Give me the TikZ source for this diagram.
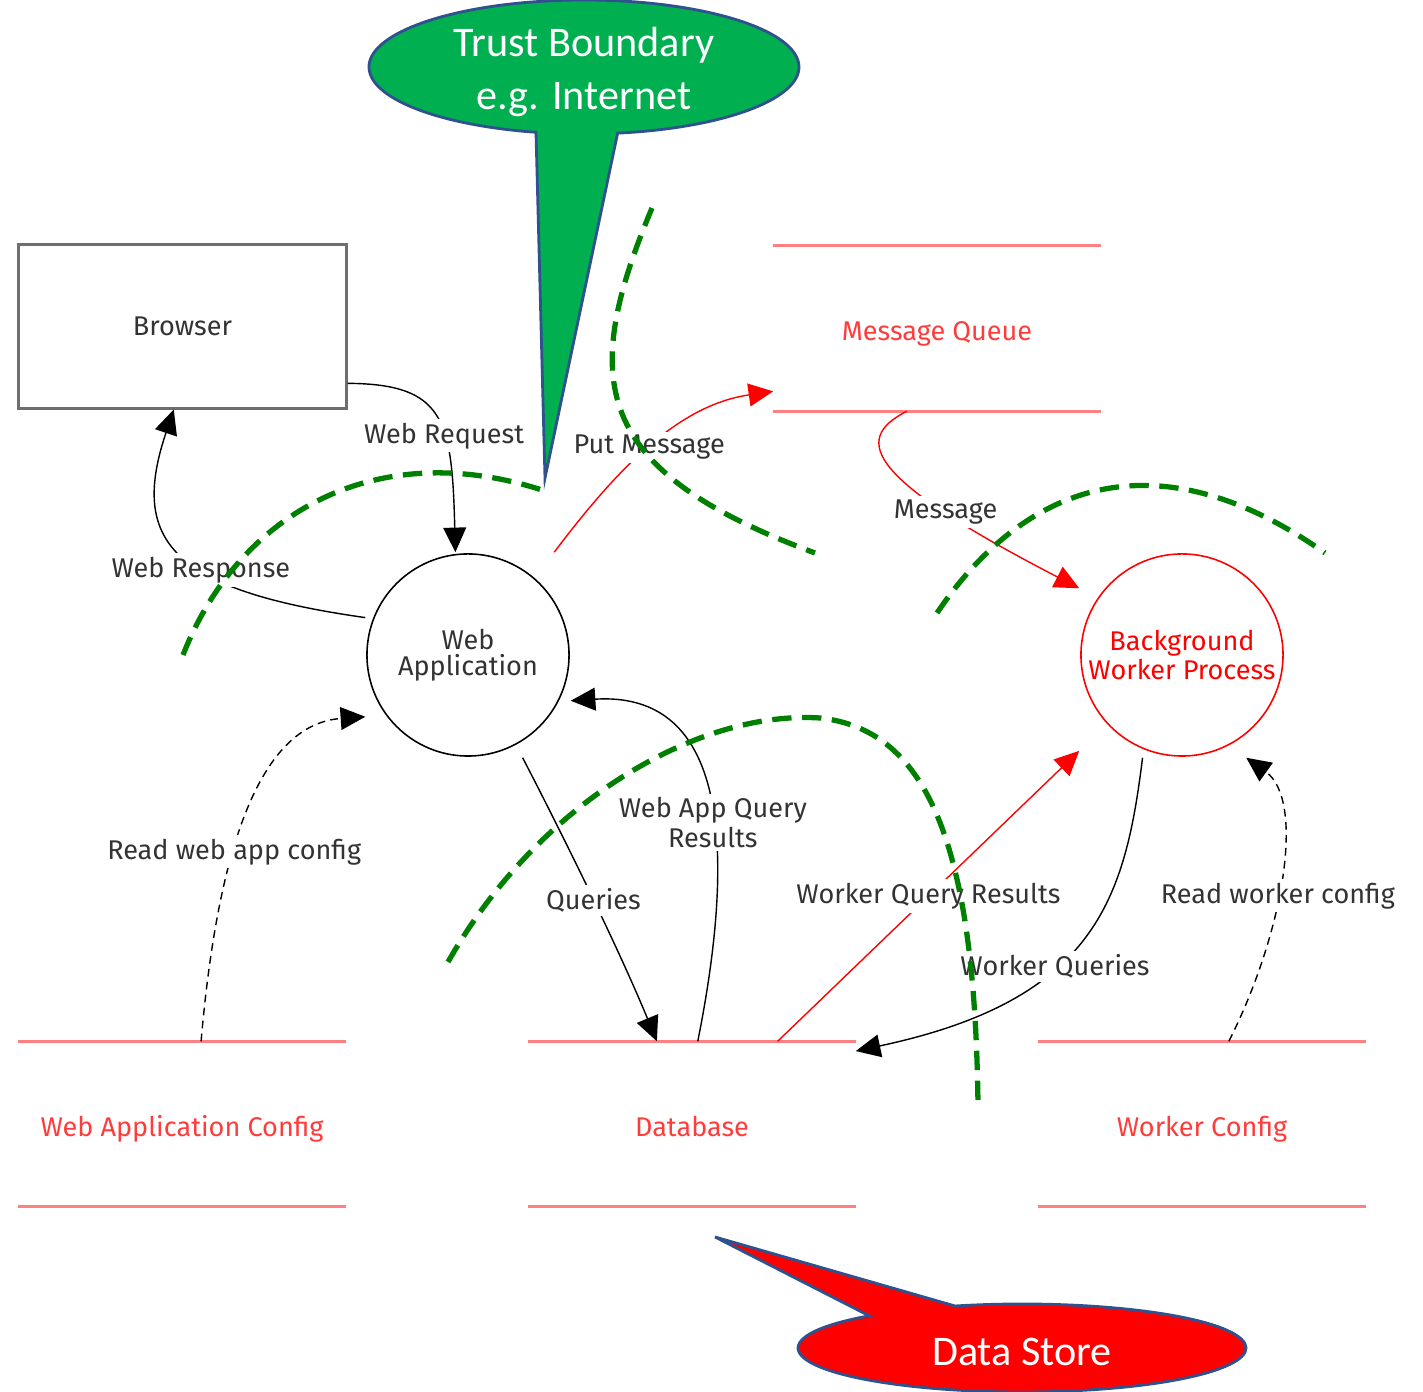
\documentclass[tikz,border=0pt]{standalone}
\usepackage{fontspec}
\setmainfont{Fira Sans}
\newfontfamily\calloutfont{Carlito}
\usetikzlibrary{arrows.meta,positioning}
\definecolor{labelgrey}{HTML}{333333}
\definecolor{boxgrey}{HTML}{6E6E6E}
\definecolor{storered}{HTML}{FF8080}
\definecolor{storetext}{HTML}{FF3C3C}
\definecolor{boundgreen}{HTML}{008000}
\definecolor{tbgreen}{HTML}{00B050}
\definecolor{callblue}{HTML}{2F528F}

\begin{document}
\begin{tikzpicture}[x=0.01cm, y=-0.01cm,
    every node/.style={font=\fontsize{7.7}{7.4}\selectfont, text=labelgrey},
    flow/.style={line width=.4pt, -{Triangle[length=7pt,width=6.5pt]}},
    redflow/.style={flow, red},
    cfgflow/.style={flow, dash pattern=on 2.2pt off 1.5pt},
    lbl/.style={fill=white, inner sep=1pt},
    proc/.style={rectangle, minimum size=2.04cm, align=center, inner sep=0pt,
        path picture={\draw[line width=.45pt,#1] (path picture bounding box.center) circle[radius=1.01cm];}},
    proc/.default=black,
    store/.style={minimum width=3.26cm, minimum height=1.64cm, text=storetext, text height=.7em, text depth=0pt},
    bound/.style={boundgreen, line width=1.5pt, dash pattern=on 5.5pt off 3pt},
    callout/.style={draw=callblue, line width=.8pt},
    callouttext/.style={font=\calloutfont\fontsize{12}{14.8}\selectfont, text=white, align=center}
  ]
  \useasboundingbox (0,0) rectangle (1423,1392);

  % actors and processes
  \node[draw=boxgrey, line width=.85pt, minimum width=3.27cm, minimum height=1.63cm] (browser) at (182.5,326.5) {Browser};
  \node[proc] (webapp) at (468,655) {Web\\Application};
  \node[proc=red, text=red] (bwp) at (1182,655) {Background\\Worker Process};

  % data stores
  \node[store] (mq) at (937,328.5) {Message Queue};
  \node[store] (wacfg) at (182,1124) {Web Application Config};
  \node[store] (db) at (692,1124) {Database};
  \node[store] (wcfg) at (1202,1124) {Worker Config};
  \foreach \s in {mq,wacfg,db,wcfg} {
    \draw[storered, line width=.85pt] (\s.north west) -- (\s.north east);
    \draw[storered, line width=.85pt] (\s.south west) -- (\s.south east);
  }

  % flows
  \draw[flow] (browser.-19) .. controls (445,384) and (452,420) .. (webapp.97)
    node[lbl,pos=.6] (lreq) {Web Request};
  \draw[flow] (webapp.160) .. controls (170,590) and (130,540) .. (browser.-96)
    node[lbl,pos=.4] (lresp) {Web Response};
  \draw[redflow] (webapp.50) .. controls (620,465) and (680,405) .. (mq.-159)
    node[lbl,pos=.48] (lput) {Put Message};
  \draw[redflow] (mq.-110) .. controls (850,440) and (870,480) .. (bwp.147)
    node[lbl,pos=.72] (lmsg) {Message};
  \draw[cfgflow] (wacfg.77) .. controls (215,880) and (250,725) .. (webapp.-149)
    node[lbl,pos=.42] (lwac) {Read web app config};
  \draw[flow] (webapp.-62) .. controls (555,820) and (615,940) .. (db.113)
    node[lbl,pos=.55] (lq) {Queries};
  \draw[flow] (db.86) .. controls (730,880) and (740,690) .. (webapp.-24)
    node[lbl,pos=.46,align=center] (lwaqr) {Web App Query\\Results};
  \draw[redflow] (db.44.7) -- (bwp.-137)
    node[lbl,pos=.5] (lwqr) {Worker Query Results};
  \draw[flow] (bwp.-111) .. controls (1125,900) and (1095,1000) .. (db.24)
    node[lbl,pos=.6] (lwq) {Worker Queries};
  \draw[cfgflow] (wcfg.72) .. controls (1285,930) and (1305,800) .. (bwp.-58)
    node[lbl,pos=.43] (lwc) {Read worker config};

  % trust boundaries
  \draw[bound] (183,655) .. controls (240,510) and (380,435) .. (548,492);
  \draw[bound] (652,208) .. controls (580,380) and (590,470) .. (815,553);
  \draw[bound] (937,613) .. controls (1020,490) and (1150,430) .. (1325,553);
  \draw[bound] (448,962) .. controls (540,800) and (700,710) .. (820,718)
    .. controls (930,730) and (975,850) .. (978,1105);

  % callouts
  \filldraw[callout, fill=tbgreen] ({584+215*cos(81)},{67+67*sin(81)})
    arc[start angle=81, end angle=-257.1, x radius=215, y radius=67] -- (545,478) -- cycle;
  \node[callouttext] (tbtext) at (584,72) {Trust Boundary\\e.g. Internet};
  \filldraw[callout, fill=red] ({1022+224*cos(-107.4)},{1348+44*sin(-107.4)})
    arc[start angle=-107.4, end angle=227, x radius=224, y radius=44] -- (715,1237) -- cycle;
  \node[callouttext] (dstext) at (1022,1352) {Data Store};
\end{tikzpicture}
\end{document}
